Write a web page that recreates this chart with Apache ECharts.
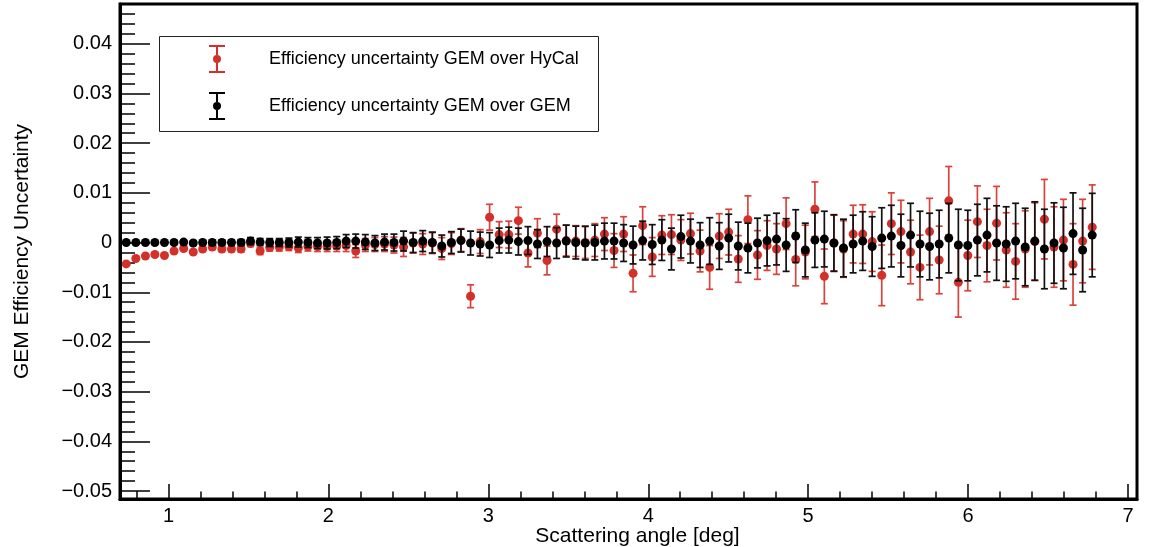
<!DOCTYPE html>
<html>
<head>
<meta charset="utf-8">
<style>html,body{margin:0;padding:0;background:#fff}#chart{width:1153px;height:547px}</style>
<script src="https://cdn.jsdelivr.net/npm/echarts@6.0.0/dist/echarts.min.js"></script>
</head>
<body>
<div id="chart"></div>
<script>
// Scattering angle bin centres [deg]
const angles = [0.736,0.796,0.856,0.915,0.975,1.035,1.095,1.155,1.214,1.274,1.334,1.394,1.454,1.513,1.573,1.633,1.693,1.753,1.812,1.872,
1.932,1.992,2.052,2.111,2.171,2.231,2.291,2.351,2.410,2.470,2.530,2.590,2.650,2.709,2.769,2.829,2.889,2.949,3.008,3.068,
3.128,3.188,3.248,3.307,3.367,3.427,3.487,3.547,3.606,3.666,3.726,3.786,3.846,3.905,3.965,4.025,4.085,4.145,4.204,4.264,
4.324,4.384,4.444,4.503,4.563,4.623,4.683,4.743,4.802,4.862,4.922,4.982,5.042,5.101,5.161,5.221,5.281,5.341,5.400,5.460,
5.520,5.580,5.640,5.699,5.759,5.819,5.879,5.939,5.998,6.058,6.118,6.178,6.238,6.297,6.357,6.417,6.477,6.537,6.596,6.656,
6.716,6.776];

// GEM over HyCal (red)
const hycalValues = [-0.0043,-0.0032,-0.0027,-0.0024,-0.0026,-0.0017,-0.0012,-0.0019,-0.0013,-0.0009,-0.0013,-0.0013,-0.0013,-0.0002,-0.0017,-0.0010,-0.0009,-0.0008,-0.0011,-0.0008,
-0.0008,-0.0008,-0.0007,-0.0006,-0.0017,-0.0005,-0.0004,-0.0003,-0.0005,-0.0009,-0.0001,-0.0003,-0.0001,-0.0012,-0.0002,0.0005,-0.0108,0.0002,0.0051,0.0016,
0.0016,0.0044,-0.0021,0.0019,-0.0036,0.0027,0.0004,0.0003,0.0000,0.0005,0.0017,-0.0016,0.0017,-0.0062,0.0034,-0.0029,0.0015,0.0016,0.0005,0.0018,
-0.0017,-0.0050,0.0013,0.0021,-0.0033,0.0046,-0.0025,-0.0006,-0.0013,0.0038,-0.0034,-0.0019,0.0067,-0.0068,-0.0001,-0.0013,0.0017,0.0017,0.0002,-0.0066,
0.0038,0.0022,-0.0019,-0.0050,0.0022,-0.0035,0.0084,-0.0080,-0.0026,0.0042,-0.0006,0.0039,-0.0015,-0.0038,-0.0013,0.0002,0.0047,-0.0009,0.0005,-0.0044,
0.0003,0.0031];
const hycalErrors = [0.0002,0.0002,0.0002,0.0003,0.0003,0.0003,0.0004,0.0004,0.0004,0.0005,0.0005,0.0005,0.0006,0.0006,0.0007,0.0007,0.0008,0.0008,0.0009,0.0009,
0.0010,0.0010,0.0011,0.0012,0.0013,0.0013,0.0014,0.0015,0.0016,0.0019,0.0020,0.0021,0.0021,0.0022,0.0022,0.0023,0.0023,0.0024,0.0026,0.0026,
0.0027,0.0027,0.0028,0.0029,0.0029,0.0030,0.0031,0.0031,0.0032,0.0033,0.0033,0.0034,0.0035,0.0037,0.0038,0.0039,0.0039,0.0040,0.0041,0.0041,
0.0042,0.0044,0.0045,0.0046,0.0047,0.0048,0.0049,0.0050,0.0051,0.0052,0.0053,0.0054,0.0055,0.0055,0.0056,0.0057,0.0058,0.0059,0.0060,0.0061,
0.0062,0.0063,0.0064,0.0065,0.0067,0.0068,0.0069,0.0070,0.0071,0.0072,0.0073,0.0074,0.0075,0.0076,0.0077,0.0078,0.0080,0.0081,0.0082,0.0082,
0.0084,0.0085];

// GEM over GEM (black)
const gemValues = [0,0,0,0,0,0,0.0001,-0.0001,0,0,0,0,0,0.0003,0.0001,0,0,0,0.0001,0,
-0.0001,-0.0001,0,0.0003,0.0003,0.0001,-0.0001,0.0001,0,0.0003,0,0.0003,0,-0.0007,0,0.0004,-0.0001,-0.0003,-0.0005,0.0004,
0.0005,0.0002,0.0004,-0.0003,0.0002,-0.0001,0.0003,0,-0.0001,0,0.0003,0.0003,-0.0001,-0.0005,0.0004,-0.0004,0.0005,-0.0013,0.0012,0.0003,
-0.0005,0.0003,-0.0007,0.0009,-0.0007,-0.0011,-0.0001,0.0004,0.0007,-0.0005,0.0013,-0.0015,0.0005,0.0007,-0.0001,-0.0011,-0.0003,0.0003,-0.0008,0.0009,
0.0013,-0.0006,0.0015,-0.0003,-0.0008,-0.0003,0.0009,-0.0005,-0.0006,0.0005,0.0015,-0.0001,-0.0003,0.0003,-0.0009,0.0003,-0.0013,-0.0001,-0.0011,0.0018,
-0.0015,0.0015];
const gemErrors = [0.0002,0.0002,0.0002,0.0003,0.0003,0.0003,0.0004,0.0004,0.0004,0.0005,0.0005,0.0005,0.0006,0.0007,0.0007,0.0008,0.0008,0.0009,0.0010,0.0010,
0.0011,0.0012,0.0012,0.0013,0.0014,0.0015,0.0015,0.0016,0.0017,0.0020,0.0020,0.0021,0.0021,0.0022,0.0022,0.0023,0.0024,0.0024,0.0025,0.0025,
0.0026,0.0027,0.0028,0.0029,0.0030,0.0031,0.0032,0.0033,0.0034,0.0035,0.0036,0.0036,0.0037,0.0038,0.0039,0.0040,0.0041,0.0042,0.0043,0.0044,
0.0045,0.0047,0.0047,0.0048,0.0048,0.0050,0.0050,0.0051,0.0052,0.0053,0.0053,0.0054,0.0055,0.0056,0.0057,0.0058,0.0058,0.0059,0.0060,0.0061,
0.0062,0.0063,0.0064,0.0066,0.0067,0.0068,0.0070,0.0072,0.0071,0.0072,0.0074,0.0075,0.0075,0.0076,0.0078,0.0079,0.0080,0.0081,0.0082,0.0082,
0.0084,0.0084];

const seriesNames = ['Efficiency uncertainty GEM over HyCal', 'Efficiency uncertainty GEM over GEM'];
const xMajorTicks = [1, 2, 3, 4, 5, 6, 7];
const yMajorTicks = [-0.05, -0.04, -0.03, -0.02, -0.01, 0, 0.01, 0.02, 0.03, 0.04];
const xTitle = 'Scattering angle [deg]';
const yTitle = 'GEM Efficiency Uncertainty';

const xMinorTicks = [];
for (let k = 4; k <= 35; k++) { if (k % 5 !== 0) xMinorTicks.push(Math.round(k * 2) / 10); }
const yMinorTicks = [];
for (let k = -25; k <= 24; k++) { if (k % 5 !== 0) yMinorTicks.push(Math.round(k * 2) / 1000); }

const FONT = "'Liberation Sans', Arial, Helvetica, sans-serif";
const RED = '#d3302a';
const RED_BAR = '#d9433c';
const BLACK = '#000000';
const X_MIN = 0.697, X_MAX = 7.056, Y_MIN = -0.0516, Y_MAX = 0.048;

function fmtY(v) {
  if (Math.abs(v) < 1e-9) return '0';
  return v.toFixed(2).replace('-', '\u2212');
}

function errorBars(color) {
  return function (params, api) {
    const x = api.value(0), y = api.value(1), e = api.value(2);
    const hi = api.coord([x, y + e]);
    const lo = api.coord([x, y - e]);
    const cap = 3.5;
    const style = { stroke: color, lineWidth: 1.7, fill: null };
    return {
      type: 'group',
      children: [
        { type: 'line', shape: { x1: hi[0], y1: hi[1], x2: lo[0], y2: lo[1] }, style: style },
        { type: 'line', shape: { x1: hi[0] - cap, y1: hi[1], x2: hi[0] + cap, y2: hi[1] }, style: style },
        { type: 'line', shape: { x1: lo[0] - cap, y1: lo[1], x2: lo[0] + cap, y2: lo[1] }, style: style }
      ]
    };
  };
}

const legendIcon = 'path://M0,0H16V2H0Z M0,26H16V28H0Z M7,2H9V10H7Z M7,18H9V26H7Z M4,14A4,4 0 1 1 12,14A4,4 0 1 1 4,14Z';

const hycalPts = angles.map((a, i) => [a, hycalValues[i], hycalErrors[i]]);
const gemPts = angles.map((a, i) => [a, gemValues[i], gemErrors[i]]);

const baseX = {
  type: 'value', min: X_MIN, max: X_MAX, gridIndex: 0, position: 'bottom',
  splitLine: { show: false }
};
const baseY = {
  type: 'value', min: Y_MIN, max: Y_MAX, gridIndex: 0, position: 'left',
  splitLine: { show: false }
};

const chart = echarts.init(document.getElementById('chart'), null, { renderer: 'canvas' });
chart.setOption({
  animation: false,
  backgroundColor: '#ffffff',
  textStyle: { fontFamily: FONT },
  grid: {
    left: 120, right: 16, top: 4, bottom: 48,
    outerBoundsMode: 'none', containLabel: false,
    show: true, borderColor: '#000', borderWidth: 3, backgroundColor: 'transparent'
  },
  xAxis: [
    Object.assign({}, baseX, {
      name: xTitle, nameLocation: 'middle', nameGap: 27, nameMoveOverlap: false,
      nameTextStyle: { fontFamily: FONT, fontSize: 21, color: '#000', padding: [0, 0, 0, 18] },
      axisLine: { show: true, onZero: false, lineStyle: { color: '#000', width: 3 } },
      axisTick: { show: true, inside: true, length: 15, customValues: xMajorTicks, lineStyle: { color: '#000', width: 1.5 } },
      axisLabel: { show: true, margin: 7, customValues: xMajorTicks, fontFamily: FONT, fontSize: 20, color: '#000',
        formatter: v => String(Math.round(v)) }
    }),
    Object.assign({}, baseX, {
      axisLine: { show: false, onZero: false },
      axisTick: { show: true, inside: true, length: 7.5, customValues: xMinorTicks, lineStyle: { color: '#000', width: 1.5 } },
      axisLabel: { show: false }
    })
  ],
  yAxis: [
    Object.assign({}, baseY, {
      name: yTitle, nameLocation: 'middle', nameGap: 87, nameMoveOverlap: false,
      nameTextStyle: { fontFamily: FONT, fontSize: 21, color: '#000' },
      axisLine: { show: true, onZero: false, lineStyle: { color: '#000', width: 3 } },
      axisTick: { show: true, inside: true, length: 30, customValues: yMajorTicks, lineStyle: { color: '#000', width: 1.5 } },
      axisLabel: { show: true, margin: 8, customValues: yMajorTicks, fontFamily: FONT, fontSize: 20, color: '#000',
        formatter: fmtY }
    }),
    Object.assign({}, baseY, {
      axisLine: { show: false, onZero: false },
      axisTick: { show: true, inside: true, length: 15, customValues: yMinorTicks, lineStyle: { color: '#000', width: 1.5 } },
      axisLabel: { show: false }
    })
  ],
  legend: {
    orient: 'vertical',
    left: 209, top: 45,
    padding: 0,
    itemWidth: 16, itemHeight: 28, itemGap: 19,
    textStyle: { fontFamily: FONT, fontSize: 18, color: '#000', padding: [0, 0, 0, 39] },
    selectedMode: false,
    data: [
      { name: seriesNames[0], icon: legendIcon },
      { name: seriesNames[1], icon: legendIcon }
    ]
  },
  graphic: [
    { type: 'rect', left: 159, top: 36, shape: { width: 439, height: 95 },
      style: { fill: 'transparent', stroke: '#222', lineWidth: 1 }, z: 5 }
  ],
  series: [
    { type: 'custom', name: 'hycal-err', xAxisIndex: 0, yAxisIndex: 0, data: hycalPts,
      encode: { x: 0, y: 1 }, renderItem: errorBars(RED_BAR), z: 2 },
    { type: 'scatter', name: seriesNames[0], xAxisIndex: 0, yAxisIndex: 0,
      data: hycalPts.map(p => [p[0], p[1]]), symbol: 'circle', symbolSize: 9,
      itemStyle: { color: RED, opacity: 1 }, z: 3 },
    { type: 'custom', name: 'gem-err', xAxisIndex: 0, yAxisIndex: 0, data: gemPts,
      encode: { x: 0, y: 1 }, renderItem: errorBars('#111111'), z: 4 },
    { type: 'scatter', name: seriesNames[1], xAxisIndex: 0, yAxisIndex: 0,
      data: gemPts.map(p => [p[0], p[1]]), symbol: 'circle', symbolSize: 9,
      itemStyle: { color: BLACK, opacity: 1 }, z: 5 }
  ]
});
</script>
</body>
</html>
